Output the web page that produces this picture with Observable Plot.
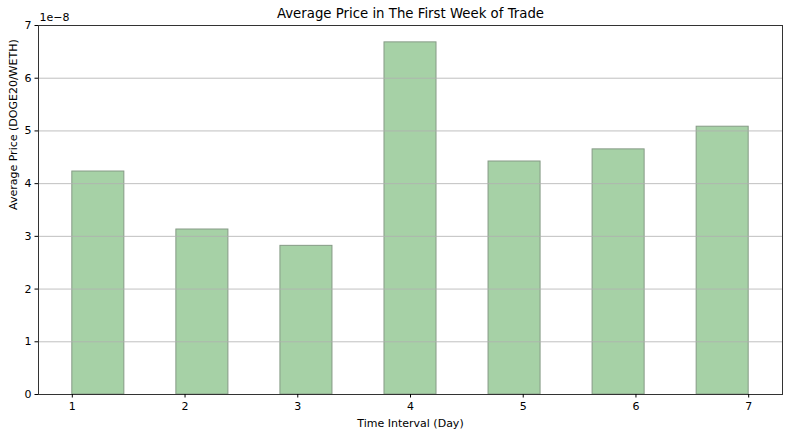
<!DOCTYPE html>
<html><head><meta charset="utf-8">
<script src="https://cdn.jsdelivr.net/npm/d3@7"></script>
<script src="https://cdn.jsdelivr.net/npm/@observablehq/plot@0.6"></script>
<style>body{margin:0;background:#fff}</style>
</head><body><div id="chart"></div>
<script>
const days = [1, 2, 3, 4, 5, 6, 7];
const avgPrice = [4.23e-8, 3.13e-8, 2.82e-8, 6.68e-8, 4.42e-8, 4.65e-8, 5.08e-8];
const yTicks = [0, 1, 2, 3, 4, 5, 6, 7].map(v => v * 1e-8);
const xTickLabels = ["1", "2", "3", "4", "5", "6", "7"];
const titleText = "Average Price in The First Week of Trade";
const xLabel = "Time Interval (Day)";
const yLabel = "Average Price (DOGE20/WETH)";
const offsetText = "1e\u22128";

const barWidth = 0.5;
const rows = days.map((d, i) => ({pos: i, day: d, price: avgPrice[i]}));
const n = days.length;
const span = (n - 1) + barWidth;
const lo = -barWidth / 2, hi = n - 1 + barWidth / 2;
const xTickPos = xTickLabels.map((_, k) => lo + k * (hi - lo) / (xTickLabels.length - 1));

const chart = Plot.plot({
  width: 788, height: 436,
  marginLeft: 38, marginRight: 6, marginTop: 25, marginBottom: 42,
  style: {fontFamily: "DejaVu Sans", fontSize: "11px", color: "#000", background: "#fff"},
  x: {domain: [lo - span * 0.05, hi + span * 0.05]},
  y: {domain: [0, 7e-8]},
  marks: [
    Plot.rectY(rows, {x1: d => d.pos - barWidth / 2, x2: d => d.pos + barWidth / 2, y: "price",
      fill: "#a6d1a6", stroke: "#869a86", strokeWidth: 1}),
    Plot.gridY(yTicks, {stroke: "#b0b0b0", strokeOpacity: 1, strokeWidth: 0.8}),
    Plot.frame({stroke: "#333", strokeWidth: 1}),
    Plot.axisY(yTicks, {tickFormat: d => String(Math.round(d / 1e-8)), tickSize: 3.5, tickPadding: 3.5, label: null, fontSize: 11}),
    Plot.axisX(xTickPos, {tickFormat: d => xTickLabels[xTickPos.indexOf(d)], tickSize: 3.5, tickPadding: 4.5, label: null, fontSize: 11}),
    Plot.text([titleText], {frameAnchor: "top", lineAnchor: "middle", dy: -12, fontSize: 13.3}),
    Plot.text([offsetText], {frameAnchor: "top-left", lineAnchor: "middle", textAnchor: "start", dy: -8, dx: 1, fontSize: 11}),
    Plot.text([yLabel], {frameAnchor: "left", lineAnchor: "middle", rotate: -90, dx: -25, fontSize: 11}),
    Plot.text([xLabel], {frameAnchor: "bottom", lineAnchor: "middle", dy: 29, fontSize: 11})
  ]
});
document.getElementById("chart").appendChild(chart);
</script>
</body></html>
